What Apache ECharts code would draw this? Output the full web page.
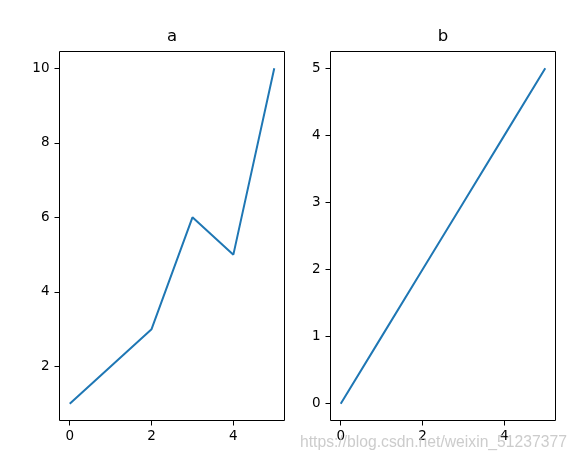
<!DOCTYPE html>
<html>
<head>
<meta charset="utf-8">
<script src="https://cdn.jsdelivr.net/npm/echarts@6/dist/echarts.min.js"></script>
<style>html,body{margin:0;padding:0;background:#fff}#c{width:580px;height:462px}</style>
</head>
<body>
<div id="c"></div>
<script>
const xA = [0, 1, 2, 3, 4, 5];
const yA = [1, 2, 3, 6, 5, 10];
const xB = [0, 1, 2, 3, 4, 5];
const yB = [0, 1, 2, 3, 4, 5];
const xTicks = [0, 2, 4];
const yTicksA = [2, 4, 6, 8, 10];
const yTicksB = [0, 1, 2, 3, 4, 5];
const titles = ['a', 'b'];
const watermark = 'https://blog.csdn.net/weixin_51237377';

const font = 'DejaVu Sans';
const chart = echarts.init(document.getElementById('c'), null, {renderer: 'canvas'});

function xAxis(idx) {
  return {
    type: 'value', gridIndex: idx, min: -0.25, max: 5.25, position: 'bottom',
    axisLine: {show: false, onZero: false},
    splitLine: {show: false},
    axisTick: {show: true, inside: false, length: 5, customValues: xTicks, lineStyle: {color: '#000', width: 1}},
    axisLabel: {customValues: xTicks, color: '#000', fontFamily: font, fontSize: 13.5, margin: 9}
  };
}
function yAxis(idx, min, max, ticks) {
  return {
    type: 'value', gridIndex: idx, min: min, max: max, position: 'left',
    axisLine: {show: false, onZero: false},
    splitLine: {show: false},
    axisTick: {show: true, inside: false, length: 5, customValues: ticks, lineStyle: {color: '#000', width: 1}},
    axisLabel: {customValues: ticks, color: '#000', fontFamily: font, fontSize: 13.5, margin: 10}
  };
}

chart.setOption({
  animation: false,
  grid: [
    {left: 59.5, top: 51.5, width: 225, height: 369, show: true, borderColor: '#000', borderWidth: 1, backgroundColor: 'transparent'},
    {left: 330.5, top: 51.5, width: 225, height: 369, show: true, borderColor: '#000', borderWidth: 1, backgroundColor: 'transparent'}
  ],
  xAxis: [xAxis(0), xAxis(1)],
  yAxis: [yAxis(0, 0.55, 10.45, yTicksA), yAxis(1, -0.25, 5.25, yTicksB)],
  series: [
    {type: 'line', xAxisIndex: 0, yAxisIndex: 0, data: xA.map((x, i) => [x, yA[i]]),
     showSymbol: false, lineStyle: {color: '#1f77b4', width: 2}, itemStyle: {color: '#1f77b4'}},
    {type: 'line', xAxisIndex: 1, yAxisIndex: 1, data: xB.map((x, i) => [x, yB[i]]),
     showSymbol: false, lineStyle: {color: '#1f77b4', width: 2}, itemStyle: {color: '#1f77b4'}}
  ],
  graphic: [
    {type: 'text', x: 172, y: 36.5,
     style: {text: titles[0], align: 'center', verticalAlign: 'middle', fill: '#000', font: '16.5px "DejaVu Sans"'}},
    {type: 'text', x: 443, y: 36.5,
     style: {text: titles[1], align: 'center', verticalAlign: 'middle', fill: '#000', font: '16.5px "DejaVu Sans"'}},
    {type: 'text', x: 300, y: 443, z: 100,
     style: {text: watermark, align: 'left', verticalAlign: 'middle', fill: 'rgba(195,195,195,0.85)',
             font: '15.7px "Liberation Sans"'}}
  ]
});
</script>
</body>
</html>
